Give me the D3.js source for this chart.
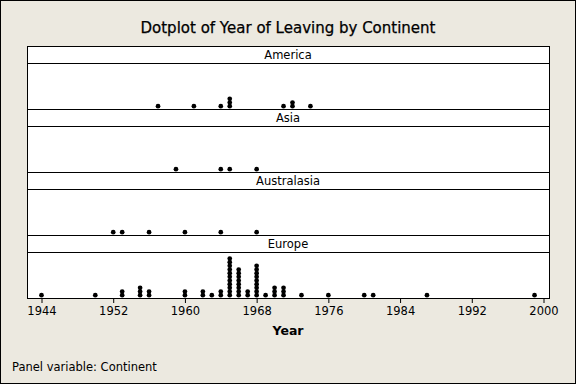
<!DOCTYPE html>
<html>
<head>
<script src="https://d3js.org/d3.v7.min.js"></script>
<style>
  body { margin: 0; }
  svg { display: block; font-family: "DejaVu Sans", sans-serif; }
</style>
</head>
<body>
<svg width="576" height="384"></svg>
<script>
// one entry per person: year of leaving
var continents = ["America", "Asia", "Australasia", "Europe"];
var americaYears = [1957, 1961, 1964, 1965, 1965, 1965, 1971, 1972, 1972, 1974];
var asiaYears = [1959, 1964, 1965, 1968];
var australasiaYears = [1952, 1953, 1956, 1960, 1964, 1968];
var europeYears = [
  1944, 1950, 1953, 1953, 1955, 1955, 1955, 1956, 1956, 1960, 1960,
  1962, 1962, 1963, 1964, 1964,
  1965, 1965, 1965, 1965, 1965, 1965, 1965, 1965, 1965, 1965, 1965,
  1966, 1966, 1966, 1966, 1966, 1966, 1966, 1966,
  1967, 1967,
  1968, 1968, 1968, 1968, 1968, 1968, 1968, 1968, 1968,
  1969, 1970, 1970, 1970, 1971, 1971, 1971,
  1973, 1976, 1980, 1981, 1987, 1999
];
var yearTicks = [1944, 1952, 1960, 1968, 1976, 1984, 1992, 2000];

var seriesByContinent = [americaYears, asiaYears, australasiaYears, europeYears];

var svg = d3.select("svg");
var W = 576, H = 384;

svg.append("rect").attr("x", 0.5).attr("y", 0.5)
  .attr("width", W - 1).attr("height", H - 1)
  .attr("fill", "#ece9e0").attr("stroke", "#000");

svg.append("text").attr("x", 288).attr("y", 33)
  .attr("text-anchor", "middle").attr("font-size", 15)
  .attr("fill", "#000").attr("stroke", "#000").attr("stroke-width", 0.25)
  .text("Dotplot of Year of Leaving by Continent");

var left = 27, right = 549, panelTop = 46;
var stripH = 17, blockH = 63;

var x = d3.scaleLinear().domain([1944, 2000]).range([41.5, 543.5]);
var stack = d3.scaleLinear().domain([0, 1]).range([0, 3.67]);

var blocks = svg.append("g").selectAll("g")
  .data(continents)
  .enter().append("g")
  .attr("transform", function(d, i) { return "translate(0," + (panelTop + i * blockH) + ")"; });

blocks.append("rect")
  .attr("x", left + 0.5).attr("y", 0.5)
  .attr("width", right - left).attr("height", blockH)
  .attr("fill", "#fff").attr("stroke", "#000");

blocks.append("line")
  .attr("x1", left).attr("x2", right + 1)
  .attr("y1", stripH + 0.5).attr("y2", stripH + 0.5)
  .attr("stroke", "#000");

blocks.append("text")
  .attr("x", 288).attr("y", stripH - 4)
  .attr("text-anchor", "middle").attr("font-size", 11.5)
  .text(function(d) { return d; });

blocks.each(function(name, i) {
  var counts = d3.rollups(seriesByContinent[i], function(v) { return v.length; }, function(d) { return d; });
  var dots = [];
  counts.forEach(function(c) {
    for (var k = 0; k < c[1]; k++) dots.push({ year: c[0], k: k });
  });
  d3.select(this).selectAll("circle")
    .data(dots)
    .enter().append("circle")
    .attr("cx", function(d) { return x(d.year); })
    .attr("cy", function(d) { return blockH - 2.8 - stack(d.k); })
    .attr("r", 2.35)
    .attr("fill", "#000");
});

var axisY = panelTop + 4 * blockH + 1;
var axis = svg.append("g")
  .attr("transform", "translate(0," + axisY + ")")
  .call(d3.axisBottom(x).tickValues(yearTicks).tickFormat(d3.format("d")).tickSize(4).tickSizeOuter(0));
axis.select(".domain").remove();
axis.selectAll("line").attr("stroke", "#000");
axis.selectAll("text").attr("font-size", 11.5).attr("font-family", "DejaVu Sans").attr("fill", "#000").attr("dy", "0.75em").attr("y", 7);

svg.append("text").attr("x", 288).attr("y", 335)
  .attr("text-anchor", "middle").attr("font-size", 12.5).attr("font-weight", "bold")
  .text("Year");

svg.append("text").attr("x", 12).attr("y", 371)
  .attr("font-size", 11.5)
  .text("Panel variable: Continent");
</script>
</body>
</html>
